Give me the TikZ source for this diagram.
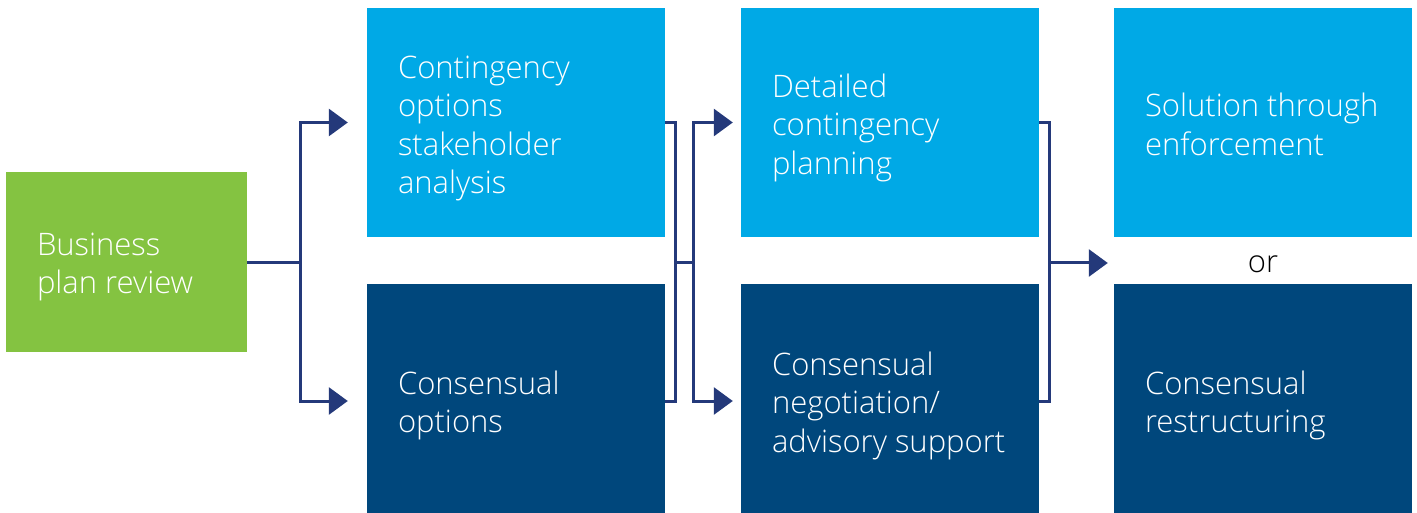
\documentclass[tikz,border=0pt]{standalone}
\usepackage{fontspec}
\setmainfont{Open Sans Light}
\usetikzlibrary{arrows.meta,calc}
\definecolor{leaf}{HTML}{84C341}
\definecolor{sky}{HTML}{00A9E6}
\definecolor{navy}{HTML}{00477C}
\definecolor{wire}{HTML}{24397A}
\begin{document}
\begin{tikzpicture}[x=1pt,y=-1pt,
  box/.style={rectangle, draw=none, inner sep=0pt, minimum width=298pt, minimum height=229pt},
  lowbox/.style={box, minimum height=228pt},
  txt/.style={anchor=west, align=left, inner sep=0pt, text=white,
    font={\fontsize{31}{38.5}\selectfont}},
  wirepath/.style={draw=wire, line width=3pt},
  arrowpath/.style={wirepath, -{Triangle[length=19pt,width=27pt]}}]
\useasboundingbox (0,0) rectangle (1417,513);
% boxes
\node[box, fill=leaf, minimum width=241pt, minimum height=180pt] (start) at (126.5,262) {};
\node[box, fill=sky] (a1) at (516,122.5) {};
\node[lowbox, fill=navy] (a2) at (516,398.5) {};
\node[box, fill=sky] (b1) at (890,122.5) {};
\node[lowbox, fill=navy] (b2) at (890,398.5) {};
\node[box, fill=sky] (c1) at (1263,122.5) {};
\node[lowbox, fill=navy] (c2) at (1263,398.5) {};
% labels (text blocks sit a little below the box centre)
\node[txt] (tstart) at ([xshift=31pt,yshift=-5pt]start.west) {Business\\plan review};
\node[txt] (ta1) at ([xshift=31pt,yshift=-6pt]a1.west) {Contingency\\options\\stakeholder\\analysis};
\node[txt] (ta2) at ([xshift=31pt,yshift=-7pt]a2.west) {Consensual\\options};
\node[txt] (tb1) at ([xshift=31pt,yshift=-5pt]b1.west) {Detailed\\contingency\\planning};
\node[txt] (tb2) at ([xshift=31pt,yshift=-7pt]b2.west) {Consensual\\negotiation/\\advisory support};
\node[txt] (tc1) at ([xshift=31pt,yshift=-2pt]c1.west) {Solution through\\enforcement};
\node[txt] (tc2) at ([xshift=31pt,yshift=-7pt]c2.west) {Consensual\\restructuring};
\node[txt, anchor=center, text=black] (or) at ($(c1.south)!0.5!(c2.north)+(0,4)$) {or};
% junction points
\coordinate (j0) at (300,263);
\coordinate (j1) at (675,263);
\coordinate (j2) at (693,263);
\coordinate (j3) at (1049,263);
% connectors
\draw[wirepath] (start.east |- j0) -- (j0);
\draw[arrowpath] (j0) |- ([xshift=-19pt]a1.west);
\draw[arrowpath] (j0) |- ([xshift=-19pt,yshift=-2.5pt]a2.west);
\draw[wirepath] (a1.east) -| (j1) |- ([yshift=-2.5pt]a2.east);
\draw[wirepath] (j1) -- (j2);
\draw[arrowpath] (j2) |- ([xshift=-8pt]b1.west);
\draw[arrowpath] (j2) |- ([xshift=-8pt,yshift=-2.5pt]b2.west);
\draw[wirepath] (b1.east) -| (j3) |- ([yshift=-2.5pt]b2.east);
\draw[arrowpath] (j3) -- (j3 -| {$(c1.west)+(-6pt,0)$});
\end{tikzpicture}
\end{document}
